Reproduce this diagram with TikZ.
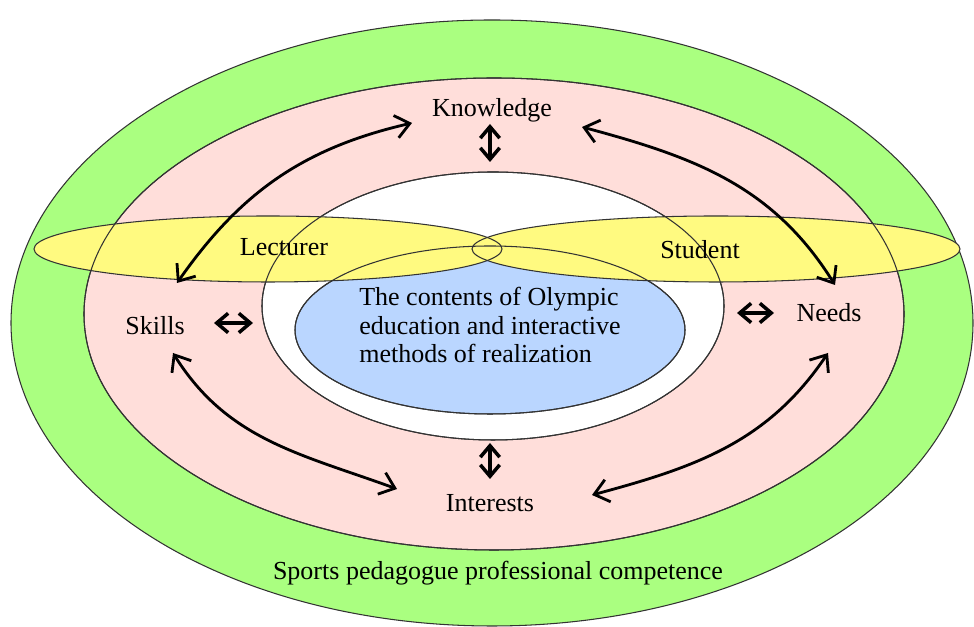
\documentclass[tikz,border=0pt]{standalone}
\usepackage{fontspec}
\setmainfont{Liberation Serif}
\usetikzlibrary{arrows.meta,calc}
\definecolor{ringgreen}{RGB}{170,255,128}
\definecolor{ringpink}{RGB}{255,222,218}
\definecolor{coreblue}{RGB}{186,214,255}
\definecolor{bandyellow}{RGB}{255,250,128}
\tikzset{
  ring/.style={draw=black!80, line width=0.6pt},
  bigarrow/.style={<->, line width=1.6pt},
  smallarrow/.style={{Straight Barb[length=6.5pt,width=11pt]}-{Straight Barb[length=6.5pt,width=11pt]}, line width=2pt}
}
\begin{document}
\begin{tikzpicture}[>={Straight Barb[length=8pt,width=13pt]}, font=\fontsize{14.8}{16}\selectfont]
\useasboundingbox (0,0) rectangle (19.48,12.54);

% Rings
\filldraw[ring, fill=ringgreen] (9.84,6.08) ellipse [x radius=9.62, y radius=6.06];
\filldraw[ring, fill=ringpink] (9.88,6.26) ellipse [x radius=8.20, y radius=4.72];
\filldraw[ring, fill=white] (9.86,6.42) ellipse [x radius=4.62, y radius=2.68];
\filldraw[ring, fill=coreblue] (9.80,5.94) ellipse [x radius=3.90, y radius=1.68];

% Lecturer and student bands
\fill[bandyellow] (5.36,7.56) ellipse [x radius=4.68, y radius=0.66];
\fill[bandyellow] (14.32,7.56) ellipse [x radius=4.88, y radius=0.66];

% Outlines on top
\draw[ring] (9.88,6.26) ellipse [x radius=8.20, y radius=4.72];
\draw[ring] (9.86,6.42) ellipse [x radius=4.62, y radius=2.68];
\draw[ring] (9.80,5.94) ellipse [x radius=3.90, y radius=1.68];
\draw[ring] (5.36,7.56) ellipse [x radius=4.68, y radius=0.66];
\draw[ring] (14.32,7.56) ellipse [x radius=4.88, y radius=0.66];

% Labels
\node (know) at (9.84,10.34) {Knowledge};
\node (lect) at (5.68,7.60) {Lecturer};
\node (stud) at (14.00,7.54) {Student};
\node (skills) at (3.10,6.02) {Skills};
\node (needs) at (16.58,6.28) {Needs};
\node (inter) at (9.80,2.48) {Interests};
\node[align=left] (olymp) at (9.80,6.04) {The contents of Olympic\\education and interactive\\methods of realization};
\node (comp) at (9.96,1.08) {Sports pedagogue professional competence};

% Curved links
\draw[bigarrow] ($(skills)+(0.44,0.86)$) to[out=55, in=193] ($(know)+(-1.60,-0.26)$);
\draw[bigarrow] ($(know)+(1.80,-0.34)$) to[out=-15, in=122] ($(needs)+(0.12,0.56)$);
\draw[bigarrow] ($(skills)+(0.36,-0.54)$) to[out=-58, in=160] ($(inter)+(-1.86,0.28)$);
\draw[bigarrow] ($(inter)+(2.04,0.16)$) to[out=15, in=236] ($(needs)+(-0.02,-0.80)$);

% Links to the core
\draw[smallarrow] ($(know)+(-0.04,-0.28)$) -- ($(know)+(-0.04,-1.04)$);
\draw[smallarrow] ($(skills)+(1.18,0.06)$) -- ($(skills)+(1.96,0.06)$);
\draw[smallarrow] ($(needs)+(-1.84,0)$) -- ($(needs)+(-1.10,0)$);
\draw[smallarrow] ($(inter)+(0,0.48)$) -- ($(inter)+(0,1.20)$);
\end{tikzpicture}
\end{document}
